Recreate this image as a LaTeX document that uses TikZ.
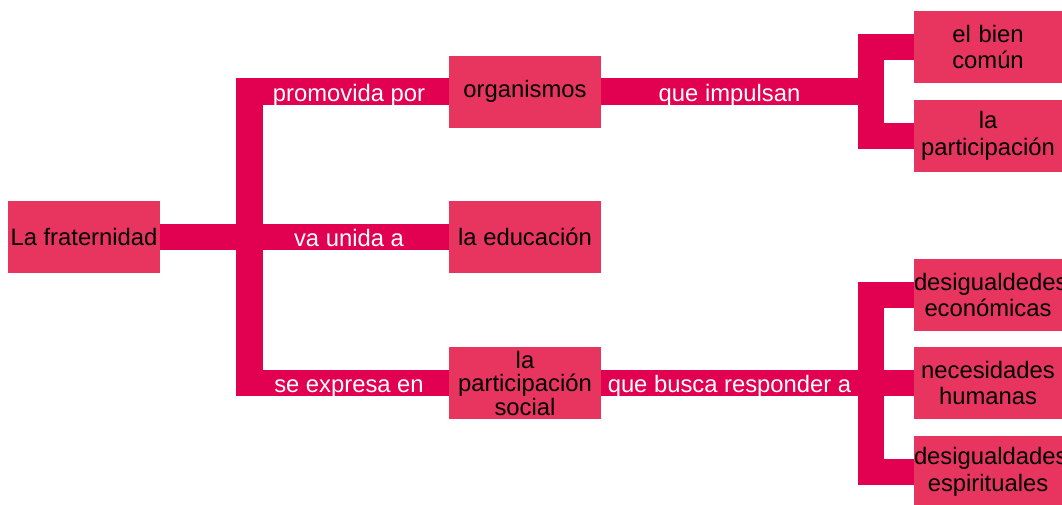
\documentclass[tikz,border=0pt]{standalone}
\usepackage{fontspec}
\setmainfont{Liberation Sans}
\definecolor{boxc}{RGB}{232,53,95}
\definecolor{bandc}{RGB}{226,0,80}
\begin{document}
\begin{tikzpicture}[x=1pt,y=-1pt,
 box/.style={fill=boxc, minimum width=152pt, minimum height=72pt, inner sep=0pt, align=center, font=\fontsize{23.8}{26.5}\selectfont, text=black},
 rbox/.style={box, minimum width=148pt, text width=148pt},
 band/.style={draw=bandc, line width=26.5pt, line join=miter, line cap=butt},
 lab/.style={text=white, font=\fontsize{23.8}{26}\selectfont, anchor=base, inner sep=0pt}]
\useasboundingbox (0,0) rectangle (1062,504);
% boxes
\node[box] (frat) at (84,237) {La fraternidad};
\node[box] (org) at (525,91.5) {organismos};
\node[box] (edu) at (525,237) {la educación};
\node[box] (ps) at (525,383) {la\\[-3pt]participación\\[-3pt]social};
\node[rbox] (bien) at (988,47) {el bien\\común};
\node[rbox] (part) at (988,136) {la\\participación};
\node[rbox] (de1) at (988,295) {desigualdedes\\económicas};
\node[rbox] (nec) at (988,383) {necesidades\\humanas};
\node[rbox] (de2) at (988,472) {desigualdades\\espirituales};
% junctions
\coordinate (b0) at (249.5,237);
\coordinate (b1) at (871,91.5);
\coordinate (b2) at (871,383);
% connectors
\draw[band] (org.west) -| (b0) |- (ps.west);
\draw[band] (frat.east) -- (edu.west);
\draw[band] (bien.west) -| (b1) |- (part.west);
\draw[band] (org.east) -- (b1);
\draw[band] (de1.west) -| (b2) |- (de2.west);
\draw[band] (ps.east) -- (nec.west);
% labels
\node[lab] (l1) at (349,101) {promovida por};
\node[lab] (l2) at (349,246) {va unida a};
\node[lab] (l3) at (349,392) {se expresa en};
\node[lab] (l4) at (729.5,101) {que impulsan};
\node[lab] (l5) at (729.5,392) {que busca responder a};
\end{tikzpicture}
\end{document}
